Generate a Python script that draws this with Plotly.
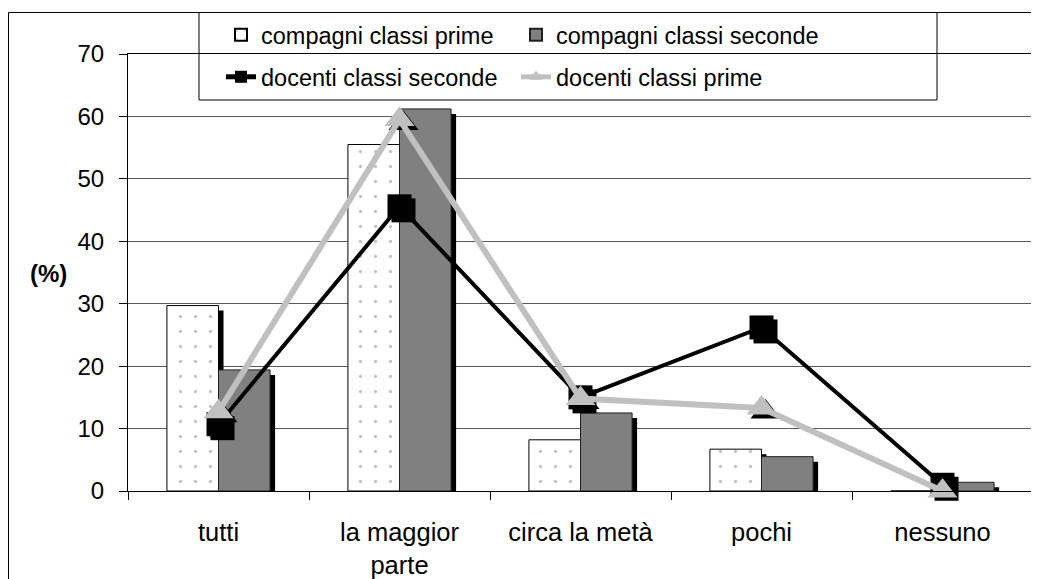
import plotly.graph_objects as go

categories = ["tutti", "la maggior<br>parte", "circa la metà", "pochi", "nessuno"]
compagni_prime = [29.7, 55.5, 8.2, 6.7, 0.0]
compagni_seconde = [19.4, 61.2, 12.5, 5.5, 1.4]
docenti_seconde = [10.7, 45.6, 15.0, 26.2, 1.0]
docenti_prime = [12.7, 59.5, 14.8, 13.3, 0.0]
y_ticks = [0, 10, 20, 30, 40, 50, 60, 70]

FONT = "Liberation Sans, Arial, sans-serif"
W, H = 1039, 579
OFF = 8  # page body margin offset
# plot area in page pixels
PX0, PX1, PY0, PY1 = 128, 1033, 54, 491
L = PX0 - OFF
T = PY0 - OFF
R = (W + OFF) - PX1
B = (H + OFF) - PY1
PW, PH = PX1 - PX0, PY1 - PY0

xi = list(range(len(categories)))
bw = 0.285
sdx = 5 / (PW / 5)      # shadow offset (category units)
sdy = 5 / (PH / 70)     # shadow offset (value units)

def shadow(vals):
    return [max(0.0, v - sdy) for v in vals]

fig = go.Figure()

# bar shadows
fig.add_trace(go.Bar(x=xi, y=shadow(compagni_prime), width=bw, offset=-bw + sdx,
                     marker=dict(color="black", line=dict(width=0)),
                     showlegend=False, hoverinfo="skip"))
fig.add_trace(go.Bar(x=xi, y=shadow(compagni_seconde), width=bw, offset=sdx,
                     marker=dict(color="black", line=dict(width=0)),
                     showlegend=False, hoverinfo="skip"))

fig.add_trace(go.Bar(x=xi, y=compagni_prime, width=bw, offset=-bw,
                     name="compagni classi prime", legend="legend",
                     marker=dict(color="white", line=dict(color="black", width=1),
                                 pattern=dict(shape=".", fgcolor="#8a8a8a", bgcolor="white",
                                              size=15, solidity=0.04))))
fig.add_trace(go.Bar(x=xi, y=compagni_seconde, width=bw, offset=0,
                     name="compagni classi seconde", legend="legend2",
                     marker=dict(color="#808080", line=dict(color="#202020", width=1))))

# docenti seconde
fig.add_trace(go.Scatter(x=[v + sdx * 0.8 for v in xi], y=[v - sdy * 0.8 for v in docenti_seconde],
                         mode="markers", marker=dict(symbol="square", size=24, color="black"),
                         showlegend=False, hoverinfo="skip", cliponaxis=False))
fig.add_trace(go.Scatter(x=xi, y=docenti_seconde, mode="lines+markers",
                         name="docenti classi seconde", legend="legend3",
                         line=dict(color="black", width=4),
                         marker=dict(symbol="square", size=24, color="black"),
                         cliponaxis=False))
# docenti prime
fig.add_trace(go.Scatter(x=[v + sdx * 0.8 for v in xi], y=[v - sdy * 0.8 for v in docenti_prime],
                         mode="markers", marker=dict(symbol="triangle-up", size=26, color="black"),
                         showlegend=False, hoverinfo="skip", cliponaxis=False))
fig.add_trace(go.Scatter(x=xi, y=docenti_prime, mode="lines+markers",
                         name="docenti classi prime", legend="legend4",
                         line=dict(color="#c0c0c0", width=6),
                         marker=dict(symbol="triangle-up", size=26, color="#c0c0c0"),
                         cliponaxis=False))

def px_x(p):
    return (p - PX0) / PW

def px_y(p):
    return (PY1 - p) / PH

legend_common = dict(orientation="h", xanchor="left", yanchor="middle",
                     font=dict(family=FONT, size=23.5, color="black"),
                     bgcolor="rgba(0,0,0,0)", borderwidth=0,
                     itemsizing="constant")

fig.update_layout(
    width=W, height=H,
    margin=dict(l=L, r=R, t=T, b=B, autoexpand=False),
    paper_bgcolor="white", plot_bgcolor="white",
    barmode="overlay",
    font=dict(family=FONT, size=23, color="black"),
    legend=dict(x=px_x(221), y=px_y(35), **legend_common),
    legend2=dict(x=px_x(516), y=px_y(35), **legend_common),
    legend3=dict(x=px_x(221), y=px_y(77), **legend_common),
    legend4=dict(x=px_x(516), y=px_y(77), **legend_common),
    xaxis=dict(range=[-0.5, 4.5], tickmode="array", tickvals=xi, ticktext=categories,
               ticks="", showgrid=False, zeroline=False, automargin=False,
               showline=True, linecolor="black", linewidth=1, mirror=True,
               ticklabelstandoff=18,
               tickfont=dict(family=FONT, size=25.5, color="black"),
               minor=dict(tickmode="array", tickvals=[-0.5, 0.5, 1.5, 2.5, 3.5, 4.5],
                          ticks="outside", ticklen=8, tickcolor="black", tickwidth=1,
                          showgrid=False)),
    yaxis=dict(range=[0, 70], tickmode="array", tickvals=y_ticks,
               ticks="outside", ticklen=8, tickcolor="black", automargin=False,
               showgrid=True, gridcolor="#5a5a5a", gridwidth=1, zeroline=False,
               showline=True, linecolor="black", linewidth=1, mirror=True,
               ticklabelstandoff=10,
               tickfont=dict(family=FONT, size=24, color="black")),
    annotations=[dict(text="<b>(%)</b>", x=px_x(48), y=px_y(273), xref="paper", yref="paper",
                      showarrow=False, xanchor="center", yanchor="middle",
                      font=dict(family=FONT, size=24, color="black"))],
    shapes=[
        # outer chart border (left and top)
        dict(type="line", xref="paper", yref="paper", x0=px_x(8.5), x1=px_x(8.5),
             y0=px_y(12.5), y1=px_y(600), line=dict(color="black", width=1)),
        dict(type="line", xref="paper", yref="paper", x0=px_x(8.5), x1=px_x(1060),
             y0=px_y(12.5), y1=px_y(12.5), line=dict(color="black", width=1)),
        # legend box
        dict(type="rect", xref="paper", yref="paper", x0=px_x(199), x1=px_x(937),
             y0=px_y(12.5), y1=px_y(100), line=dict(color="black", width=1),
             fillcolor="white", layer="below"),
    ],
)

fig.write_html("out.html")
